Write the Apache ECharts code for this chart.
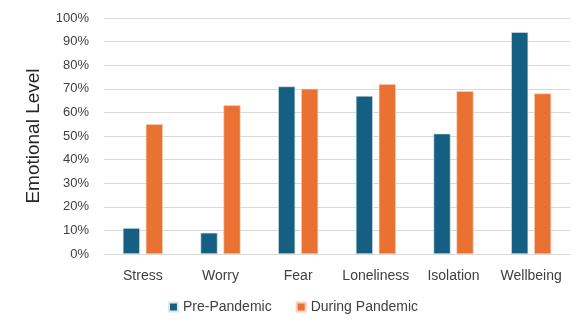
<!DOCTYPE html>
<html><head><meta charset="utf-8">
<script src="https://cdn.jsdelivr.net/npm/echarts@6/dist/echarts.min.js"></script>
<style>html,body{margin:0;padding:0;background:#fff}#c{width:586px;height:331px}</style>
</head><body><div id="c"></div>
<script>
var categories = ["Stress","Worry","Fear","Loneliness","Isolation","Wellbeing"];
var prePandemic = [11, 9, 71, 67, 51, 94];
var duringPandemic = [55, 63, 70, 72, 69, 68];
var seriesNames = ["Pre-Pandemic","During Pandemic"];
var yTicks = [0,10,20,30,40,50,60,70,80,90,100];

var chart = echarts.init(document.getElementById('c'));
var font = 'Liberation Sans, Arial, sans-serif';
chart.setOption({
  animation: false,
  textStyle: {fontFamily: font},
  grid: {left: 104, right: 16, top: 18, bottom: 77},
  legend: {
    data: seriesNames, bottom: 12, left: 'center', itemWidth: 9, itemHeight: 9, itemGap: 24,
    icon: 'rect',
    textStyle: {fontSize: 14, color: '#404040', fontFamily: font}
  },
  xAxis: {
    type: 'category', data: categories,
    axisLine: {lineStyle: {color: '#d9d9d9', width: 1}},
    axisTick: {show: false},
    axisLabel: {interval: 0, fontSize: 14, color: '#404040', margin: 15, fontFamily: font}
  },
  yAxis: {
    type: 'value', min: 0, max: 100, interval: 10,
    name: 'Emotional Level', nameLocation: 'middle', nameGap: 61,
    nameTextStyle: {fontSize: 19, color: '#262626', fontFamily: font},
    axisLine: {show: false}, axisTick: {show: false},
    axisLabel: {fontSize: 13, color: '#404040', margin: 15, fontFamily: font,
      formatter: function(v){ return yTicks.indexOf(v) >= 0 ? v + '%' : ''; }},
    splitLine: {lineStyle: {color: '#d9d9d9', width: 1}}
  },
  series: [
    {name: seriesNames[0], type: 'bar', data: prePandemic, barWidth: 17, barGap: '35%',
     itemStyle: {color: '#156082', borderColor: '#dbe7ee', borderWidth: 0.6}},
    {name: seriesNames[1], type: 'bar', data: duringPandemic, barWidth: 17,
     itemStyle: {color: '#E97132', borderColor: '#f6d3bf', borderWidth: 0.6}}
  ]
});
</script></body></html>
